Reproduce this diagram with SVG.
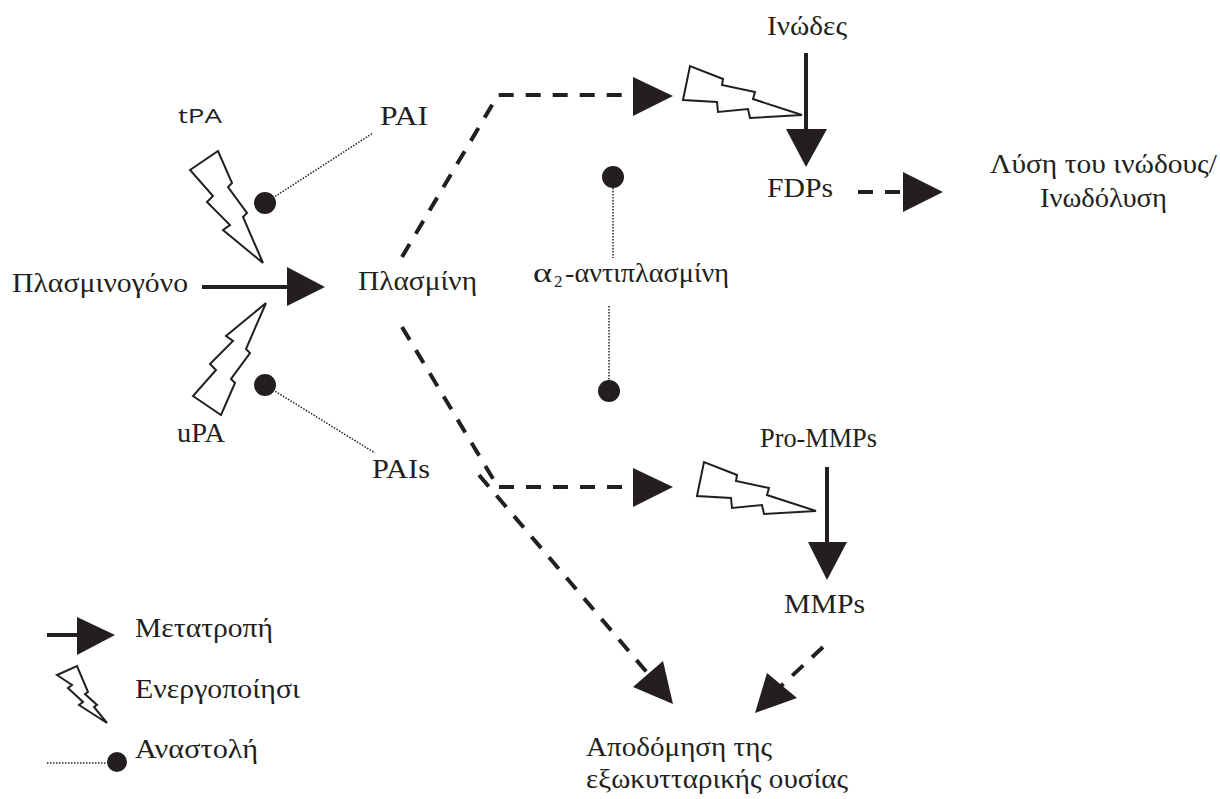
<svg xmlns="http://www.w3.org/2000/svg" width="1220" height="799" viewBox="0 0 1220 799">
<style>
.t{font-family:"Liberation Serif","Times New Roman",serif;font-size:27px;fill:#231f20}
.sub{font-family:"Liberation Serif","Times New Roman",serif;font-size:17px;fill:#231f20}
.s{font-family:"Open Sans","Liberation Sans",sans-serif;font-size:20px;fill:#231f20}
.solid{stroke:#231f20;stroke-width:4;fill:none}
.dash{stroke:#231f20;stroke-width:4;fill:none;stroke-dasharray:15 12}
.dot{stroke:#231f20;stroke-width:1.5;fill:none;stroke-dasharray:1.5 1.5}
.head{fill:#231f20}
.bolt{fill:#fff;stroke:#231f20;stroke-width:2;stroke-linejoin:miter}
.inh{fill:#231f20}
</style>
<defs>
<path id="boltV" d="M190,170 L218,151 L232,183 L228,187 L247,213 L243,217 L263,263 L223,230 L230,225 L207,202 L213,196 Z"/>
<path id="boltH" d="M683,100 L690,66 L723,79 L722,85 L755,92 L753,99 L802,115 L750,118 L748,109 L718,112 L717,102 Z"/>
</defs>
<g id="connectors">
<path class="solid" d="M202,287 L289,287"/>
<polygon class="head" points="287,267 287,306 325,287"/>
<use href="#boltV" class="bolt"/>
<use href="#boltV" class="bolt" transform="translate(3,566) scale(1,-1)"/>
<path class="dot" d="M265,203 L373,133"/>
<circle class="inh" cx="265" cy="203" r="11"/>
<path class="dot" d="M265,385 L375,453"/>
<circle class="inh" cx="265" cy="385" r="11"/>
<path class="dash" d="M402,257 L498,95 L633,95"/>
<polygon class="head" points="633,77 633,116 673,96"/>
<use href="#boltH" class="bolt"/>
<path class="solid" d="M806,53 L806,131"/>
<polygon class="head" points="786,129 827,129 806,167"/>
<path class="dash" d="M858,192 L903,192"/>
<polygon class="head" points="903,172 903,212 943,192"/>
<path class="dot" d="M613,185 L613,258"/>
<circle class="inh" cx="613" cy="177" r="11"/>
<path class="dot" d="M609,306 L609,383"/>
<circle class="inh" cx="609" cy="391" r="11"/>
<path class="dash" d="M402,327 L495,482"/>
<path class="dash" d="M499,487 L633,487"/>
<polygon class="head" points="633,468 633,507 673,487"/>
<path class="dash" d="M479,475 L650,676"/>
<polygon class="head" points="633,687 663,661 673,704"/>
<use href="#boltH" class="bolt" transform="translate(14,396)"/>
<path class="solid" d="M827,467 L827,544"/>
<polygon class="head" points="808,542 847,542 827,580"/>
<path class="dash" d="M823,647 L780,687"/>
<polygon class="head" points="755,713 767,673 797,698"/>
</g>
<g id="tPA"><text class="s" x="178" y="123" textLength="44" lengthAdjust="spacingAndGlyphs">tPA</text></g>
<g id="plasminogen"><text class="t" x="12" y="292" textLength="176" lengthAdjust="spacingAndGlyphs">Πλασμινογόνο</text></g>
<g id="uPA"><text class="t" x="177" y="442" textLength="48" lengthAdjust="spacingAndGlyphs">uPA</text></g>
<g id="PAI"><text class="t" x="380" y="125" textLength="48" lengthAdjust="spacingAndGlyphs">PAI</text></g>
<g id="PAIs"><text class="t" x="372" y="478" textLength="58" lengthAdjust="spacingAndGlyphs">PAIs</text></g>
<g id="plasmin"><text class="t" x="358" y="290" textLength="119" lengthAdjust="spacingAndGlyphs">Πλασμίνη</text></g>
<g id="antiplasmin">
<text class="t" x="533" y="282" textLength="19" lengthAdjust="spacingAndGlyphs">α</text>
<text class="sub" x="554" y="287">2</text>
<text class="t" x="565" y="282" textLength="164" lengthAdjust="spacingAndGlyphs">-αντιπλασμίνη</text>
</g>
<g id="fibrin"><text class="t" x="767" y="35" textLength="80" lengthAdjust="spacingAndGlyphs">Ινώδες</text></g>
<g id="FDPs"><text class="t" x="767" y="197" textLength="66" lengthAdjust="spacingAndGlyphs">FDPs</text></g>
<g id="fibrinolysis">
<text class="t" x="990" y="173" textLength="227" lengthAdjust="spacingAndGlyphs">Λύση του ινώδους/</text>
<text class="t" x="1040" y="207" textLength="127" lengthAdjust="spacingAndGlyphs">Ινωδόλυση</text>
</g>
<g id="proMMPs"><text class="t" x="760" y="447" textLength="117" lengthAdjust="spacingAndGlyphs">Pro-MMPs</text></g>
<g id="MMPs"><text class="t" x="784" y="613" textLength="81" lengthAdjust="spacingAndGlyphs">MMPs</text></g>
<g id="ecm">
<text class="t" x="586" y="756" textLength="186" lengthAdjust="spacingAndGlyphs">Αποδόμηση της</text>
<text class="t" x="586" y="788" textLength="262" lengthAdjust="spacingAndGlyphs">εξωκυτταρικής ουσίας</text>
</g>
<g id="legend">
<path class="solid" d="M47,635 L79,635"/>
<polygon class="head" points="77,617 77,655 115,635"/>
<text class="t" x="135" y="637" textLength="138" lengthAdjust="spacingAndGlyphs">Μετατροπή</text>
<path class="bolt" d="M57,675 L77,666 L88,692 L85,694 L97,705 L94,707 L107,723 L79,705 L83,702 L68,688 L72,685 Z"/>
<text class="t" x="135" y="698" textLength="165" lengthAdjust="spacingAndGlyphs">Ενεργοποίησι</text>
<path class="dot" d="M47,763 L107,763"/>
<circle class="inh" cx="117" cy="762" r="10"/>
<text class="t" x="135" y="758" textLength="123" lengthAdjust="spacingAndGlyphs">Αναστολή</text>
</g>
</svg>
